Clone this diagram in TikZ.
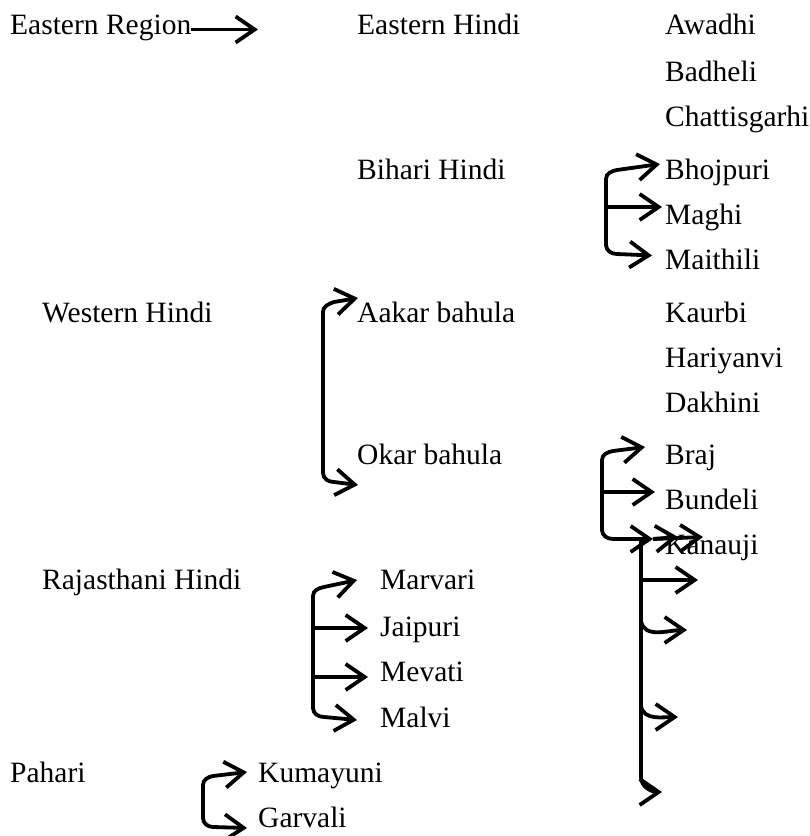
\documentclass[tikz,border=0pt]{standalone}
\usepackage{fontspec}
\setmainfont{Liberation Serif}
\usetikzlibrary{arrows.meta}
\tikzset{l/.style={font=\fontsize{29.5}{30}\selectfont, anchor=base west, inner sep=0pt, text height=20pt, text depth=7pt}}
\tikzset{ar/.style={-{Straight Barb[length=19pt,width=26pt]}, line width=3.8pt}}
\begin{document}
\begin{tikzpicture}[x=1pt,y=-1pt]
  \useasboundingbox (0,0) rectangle (810,836);
  % first column
  \node[l] (ER) at (10,34.5) {Eastern Region};
  \node[l] (WH) at (42,322) {Western Hindi};
  \node[l] (RH) at (42,589) {Rajasthani Hindi};
  \node[l] (Ph) at (10,782) {Pahari};
  % second column
  \node[l] (EH) at (357,34.5) {Eastern Hindi};
  \node[l] (BH) at (357,179) {Bihari Hindi};
  \node[l] (AB) at (357,322) {Aakar bahula};
  \node[l] (OB) at (357,464) {Okar bahula};
  \node[l] (Mr) at (380,589) {Marvari};
  \node[l] (Jp) at (380,636) {Jaipuri};
  \node[l] (Mv) at (380,681) {Mevati};
  \node[l] (Ml) at (380,727) {Malvi};
  \node[l] (Km) at (258,782) {Kumayuni};
  \node[l] (Gv) at (258,827) {Garvali};
  % third column
  \node[l] (Aw) at (665,34.5) {Awadhi};
  \node[l] (Bd) at (665,81) {Badheli};
  \node[l] (Ch) at (665,126) {Chattisgarhi};
  \node[l] (Bj) at (665,179) {Bhojpuri};
  \node[l] (Mg) at (665,224) {Maghi};
  \node[l] (Mt) at (665,269) {Maithili};
  \node[l] (Ka) at (665,322) {Kaurbi};
  \node[l] (Hr) at (665,367) {Hariyanvi};
  \node[l] (Dk) at (665,412) {Dakhini};
  \node[l] (Br) at (665,464) {Braj};
  \node[l] (Bn) at (665,509) {Bundeli};
  \node[l] (Kn) at (665,554) {Kanauji};

  % eastern region
  \coordinate (ERt) at (258,29.5);
  \draw[ar] (ER.east |- ERt) -- (ERt);

  % bihari hindi
  \coordinate (b1) at (606,179);
  \coordinate (b2) at (606,245);
  \draw[ar] (b2) -- (b1) to[out=90,in=190] ++(11,-9) -- ([xshift=-5pt,yshift=8.5pt]Bj.west);
  \draw[ar] (b1 |- 0,207) -- ([xshift=-3pt,yshift=10.5pt]Mg.west);
  \draw[ar] (b1) -- (b2) to[out=-90,in=180] ++(11,9) -- ([xshift=-13pt,yshift=7pt]Mt.west);

  % western hindi
  \coordinate (w1) at (323,312);
  \coordinate (w2) at (323,473);
  \draw[ar] (w2) -- (w1) to[out=90,in=200] ++(11,-10) -- ([xshift=1pt,yshift=17.5pt]AB.west);
  \draw[ar] (w1) -- (w2) to[out=-90,in=180] ++(11,9) -- ([xshift=1pt,yshift=-27.5pt]OB.west);

  % okar bahula
  \coordinate (o1) at (602,460);
  \coordinate (o2) at (602,530);
  \coordinate (kt) at ([xshift=-12pt,yshift=8.5pt]Kn.west);
  \draw[ar] (o2) -- (o1) to[out=90,in=190] ++(11,-9) -- ([xshift=-20pt,yshift=10.5pt]Br.west);
  \draw[ar] (o1 |- 0,492) -- ([xshift=-10pt,yshift=10.5pt]Bn.west);
  \draw[ar] (o1) -- (o2) to[out=-90,in=180] ++(11,9) -- (kt);
  \draw[ar] (kt) -- ([xshift=13pt,yshift=10.5pt]Kn.west);
  \draw[ar] (kt) -- ([xshift=38pt,yshift=10.5pt]Kn.west);

  % long line below kanauji
  \coordinate (v1) at (641,540);
  \coordinate (v2) at (641,777);
  \coordinate (k1) at (698,580);
  \coordinate (k2) at (687,630);
  \coordinate (k3) at (678,717);
  \coordinate (k4) at (662,792);
  \draw[line width=3.8pt] (v1) -- (v2);
  \draw[ar] (v1 |- k1) -- (k1);
  \draw[ar] (641,621) to[out=-80,in=180] (k2);
  \draw[ar] (641,706) to[out=-80,in=180] (k3);
  \draw[ar] (v2) to[out=-90,in=180] (k4);

  % rajasthani hindi
  \coordinate (r1) at (313,596);
  \coordinate (r2) at (313,708);
  \draw[ar] (r2) -- (r1) to[out=90,in=190] ++(11,-9) -- ([xshift=-23pt,yshift=2.5pt]Mr.west);
  \draw[ar] (r1 |- 0,628) -- ([xshift=-12pt,yshift=1.5pt]Jp.west);
  \draw[ar] (r1 |- 0,677) -- ([xshift=-12pt,yshift=-2.5pt]Mv.west);
  \draw[ar] (r1) -- (r2) to[out=-90,in=180] ++(11,9) -- ([xshift=-23pt,yshift=0.5pt]Ml.west);

  % pahari
  \coordinate (p1) at (203,785);
  \coordinate (p2) at (203,818);
  \draw[ar] (p2) -- (p1) to[out=90,in=190] ++(10,-9) -- ([xshift=-11pt,yshift=3.5pt]Km.west);
  \draw[ar] (p1) -- (p2) to[out=-90,in=180] ++(10,9) -- ([xshift=-11pt,yshift=-7.5pt]Gv.west);
\end{tikzpicture}
\end{document}
